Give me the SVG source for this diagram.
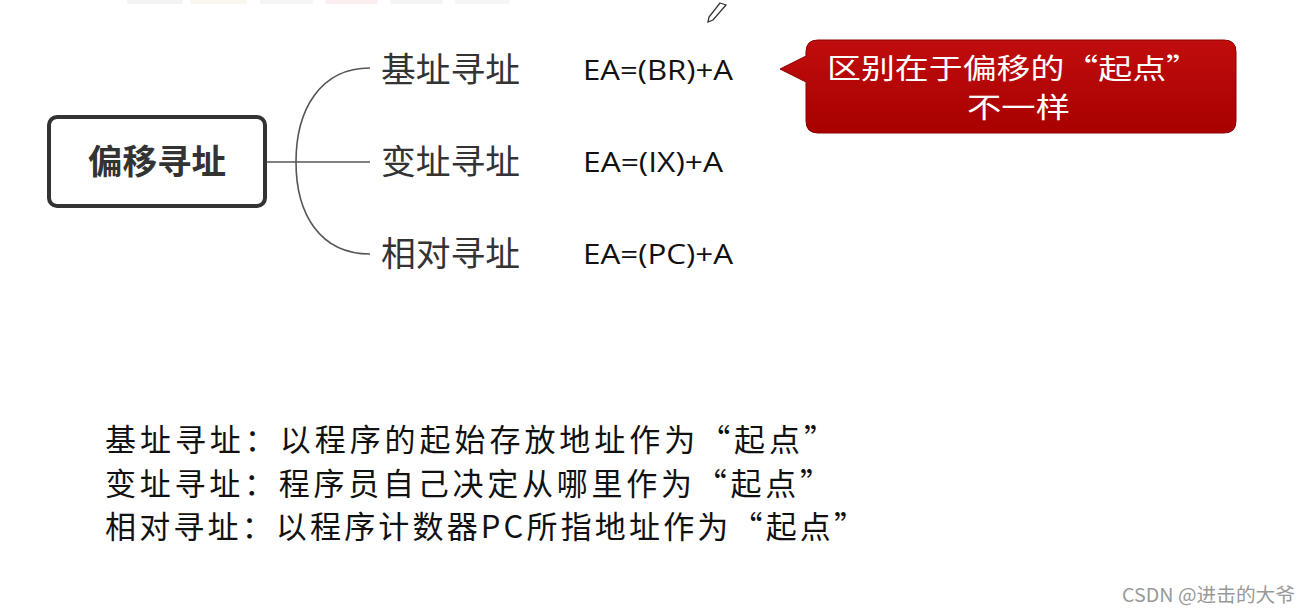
<svg xmlns="http://www.w3.org/2000/svg" width="1309" height="614" viewBox="0 0 1309 614">
<style>
.cn{font-family:"Noto Sans CJK SC","Noto Sans",sans-serif;}
.lbl{font-size:34px;fill:#333;}
.ea{font-family:"Open Sans","Liberation Sans",sans-serif;font-size:27px;fill:#111;}
.note{font-family:"Noto Sans CJK SC",sans-serif;font-size:31px;fill:#111;}
.conn{fill:none;stroke:#555;stroke-width:1.6;}
</style>
<defs>
<linearGradient id="red" x1="0" y1="0" x2="0" y2="1">
<stop offset="0" stop-color="#c00d0d"/>
<stop offset="1" stop-color="#a80000"/>
</linearGradient>
</defs>
<rect width="1309" height="614" fill="#fff"/>
<g id="toolbar" opacity="0.5">
<rect x="127" y="-4" width="56" height="8" rx="3" fill="#e8e8e8"/>
<rect x="190" y="-4" width="57" height="8" rx="3" fill="#f3eedc"/>
<rect x="260" y="-4" width="53" height="8" rx="3" fill="#ececec"/>
<rect x="325" y="-4" width="53" height="8" rx="3" fill="#f6dede"/>
<rect x="390" y="-4" width="53" height="8" rx="3" fill="#e6eaee"/>
<rect x="455" y="-4" width="55" height="8" rx="3" fill="#ececec"/>
</g>
<g id="pencil" fill="none" stroke="#333" stroke-width="1.3">
<path d="M720 3 L726 5 L713 20 L708 22 L709 17 Z"/>
</g>
<g id="connectors">
<line class="conn" x1="266" y1="162" x2="370" y2="162"/>
<path class="conn" d="M370 68 C320 68 296 110 296 162 C296 214 320 254 370 254"/>
</g>
<g id="root">
<rect x="49" y="117" width="216" height="89" rx="8" fill="#fff" stroke="#333" stroke-width="4"/>
<text class="cn" x="157" y="174" text-anchor="middle" font-size="34" font-weight="bold" fill="#333" textLength="138" lengthAdjust="spacingAndGlyphs">偏移寻址</text>
</g>
<g id="n1"><text class="cn lbl" x="381" y="82" textLength="139" lengthAdjust="spacingAndGlyphs">基址寻址</text><text class="ea" x="583" y="80" textLength="150" lengthAdjust="spacingAndGlyphs">EA=(BR)+A</text></g>
<g id="n2"><text class="cn lbl" x="381" y="174" textLength="139" lengthAdjust="spacingAndGlyphs">变址寻址</text><text class="ea" x="583" y="172" textLength="140" lengthAdjust="spacingAndGlyphs">EA=(IX)+A</text></g>
<g id="n3"><text class="cn lbl" x="381" y="266" textLength="139" lengthAdjust="spacingAndGlyphs">相对寻址</text><text class="ea" x="583" y="264" textLength="150" lengthAdjust="spacingAndGlyphs">EA=(PC)+A</text></g>
<g id="callout">
<path d="M818 40 H1224 Q1236 40 1236 52 V121 Q1236 133 1224 133 H818 Q806 133 806 121 V82 L780 69 L806 56 V52 Q806 40 818 40 Z" fill="url(#red)" stroke="#8a0000" stroke-width="1"/>
<text class="cn" x="827" y="79" font-size="28" fill="#fff" textLength="373" lengthAdjust="spacingAndGlyphs">区别在于偏移的“起点”</text>
<text class="cn" x="967" y="118" font-size="28" fill="#fff" textLength="103" lengthAdjust="spacingAndGlyphs">不一样</text>
</g>
<g id="notes">
<text class="note" x="105" y="451" textLength="730" lengthAdjust="spacing">基址寻址：以程序的起始存放地址作为“起点”</text>
<text class="note" x="105" y="495" textLength="726" lengthAdjust="spacing">变址寻址：程序员自己决定从哪里作为“起点”</text>
<text class="note" x="105" y="538" textLength="760" lengthAdjust="spacing">相对寻址：以程序计数器PC所指地址作为“起点”</text>
</g>
<text class="cn" x="1122" y="602" font-size="19" fill="#999" textLength="173" lengthAdjust="spacingAndGlyphs">CSDN @进击的大爷</text>
</svg>
